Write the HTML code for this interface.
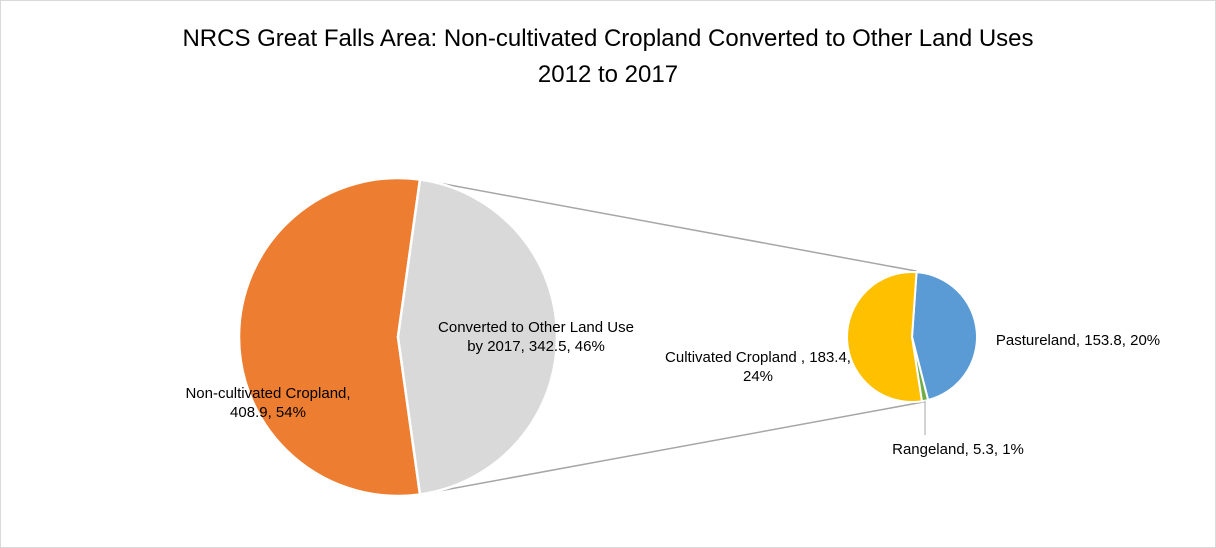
<!DOCTYPE html>
<html><head><meta charset="utf-8"><style>
html,body{margin:0;padding:0;background:#fff;}
#c{position:relative;width:1216px;height:548px;overflow:hidden;font-family:"Liberation Sans",Arial,sans-serif;}
svg text{font-family:"Liberation Sans",Arial,sans-serif;fill:#000;}
</style></head><body>
<div id="c">
<svg id="s" width="1216" height="548">
<rect x="0.5" y="0.5" width="1215" height="547" fill="#fff" stroke="#d9d9d9"/>
<text x="608" y="46" font-size="24" text-anchor="middle">NRCS Great Falls Area: Non-cultivated Cropland Converted to Other Land Uses</text>
<text x="608" y="82" font-size="24" text-anchor="middle">2012 to 2017</text>
</svg>
</div>
<script>
const mainCategories=["Non-cultivated Cropland","Converted to Other Land Use by 2017"];
const mainValues=[408.9,342.5];
const subCategories=["Pastureland","Rangeland","Cultivated Cropland "];
const subValues=[153.8,5.3,183.4];
const mainColors=["#ED7D31","#D9D9D9"];
const subColors=["#5B9BD5","#70AD47","#FFC000"];
const NS="http://www.w3.org/2000/svg";
const svg=document.getElementById('s');
function pt(cx,cy,r,a){const t=(a-90)*Math.PI/180;return [cx+r*Math.cos(t),cy+r*Math.sin(t)];}
function arc(cx,cy,r,a0,a1){const p0=pt(cx,cy,r,a0),p1=pt(cx,cy,r,a1);const lg=(a1-a0)>180?1:0;
return `M${cx},${cy}L${p0[0]},${p0[1]}A${r},${r} 0 ${lg} 1 ${p1[0]},${p1[1]}Z`;}
function el(tag,attrs){const e=document.createElementNS(NS,tag);for(const k in attrs)e.setAttribute(k,attrs[k]);svg.appendChild(e);return e;}
const BX=398,BY=337,BR=159,SX=912,SY=337,SR=65;
const mainTotal=mainValues.reduce((a,b)=>a+b,0);
const convSpan=mainValues[1]/mainTotal*360;
const cs=90-convSpan/2, ce=90+convSpan/2;
// connector lines
const subTotal=subValues.reduce((a,b)=>a+b,0);
const sStart=4;
const t1=pt(BX,BY,BR,cs), b1=pt(BX,BY,BR,ce);
const t2=pt(SX,SY,SR+1,sStart), b2=pt(SX,SY,SR+1,sStart+subValues[0]/subTotal*360+subValues[1]/subTotal*360/2);
let l=el('line',{x1:t1[0],y1:t1[1],x2:t2[0],y2:t2[1],stroke:'#a6a6a6','stroke-width':1.5});


l=el('line',{x1:b1[0],y1:b1[1],x2:b2[0],y2:b2[1],stroke:'#a6a6a6','stroke-width':1.5});


// main pie
let p=el('path',{d:arc(BX,BY,BR,ce,cs+360),fill:mainColors[0],stroke:'#fff','stroke-width':2.5});


p=el('path',{d:arc(BX,BY,BR,cs,ce),fill:mainColors[1],stroke:'#fff','stroke-width':2.5});


// sub pie
let a=sStart;
const subNames=['slice-pastureland','slice-rangeland','slice-cultivated-cropland'];
subValues.forEach((v,i)=>{const sp=v/subTotal*360;
 const q=el('path',{d:arc(SX,SY,SR,a,a+sp),fill:subColors[i],stroke:'#fff','stroke-width':2});
 
 
 a+=sp;});
// leader line for rangeland
const rMid=sStart+(subValues[0]+subValues[1]/2)/subTotal*360;
const rp=pt(SX,SY,SR,rMid);
l=el('polyline',{points:`${rp[0]},${rp[1]} ${rp[0]},435`,fill:'none',stroke:'#a6a6a6','stroke-width':1});


function pct(v,t){return Math.round(v/t*100)+'%';}
function label(lines,x,y,name,anchor){const t=el('text',{x:x,y:y,'font-size':15,'text-anchor':anchor||'middle'});
 
 
 lines.forEach((s,i)=>{const ts=document.createElementNS(NS,'tspan');ts.setAttribute('x',x);ts.setAttribute('dy',i?19:0);ts.textContent=s;t.appendChild(ts);});}
label([mainCategories[0]+',',mainValues[0]+', '+pct(mainValues[0],mainTotal)],268,398,'label-non-cultivated-cropland');
label(['Converted to Other Land Use','by 2017, '+mainValues[1]+', '+pct(mainValues[1],mainTotal)],536,332,'label-converted-other-land-use');
label([subCategories[2]+', '+subValues[2]+',',pct(subValues[2],mainTotal)],758,362,'label-cultivated-cropland');
label([subCategories[0]+', '+subValues[0]+', '+pct(subValues[0],mainTotal)],1078,345,'label-pastureland');
label([subCategories[1]+', '+subValues[1]+', '+pct(subValues[1],mainTotal)],958,454,'label-rangeland');
</script>
</body></html>
